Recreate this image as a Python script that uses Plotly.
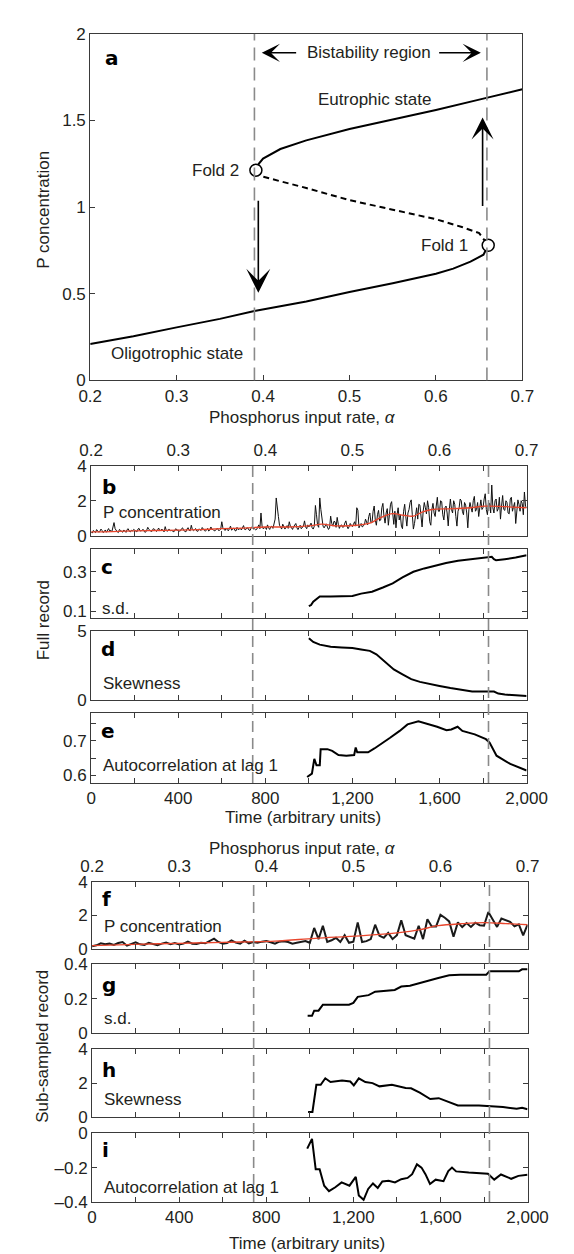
import plotly.graph_objects as go

W, H = 574, 1254
FONT = "Liberation Sans, Arial, Helvetica, sans-serif"
BFONT = "DejaVu Sans, Liberation Sans, Arial, sans-serif"
INK = "#231f20"
AX = "#3a3a3a"
RED = "#e8452c"
GREY = "#8a8a8a"

# ---------------- Panel a: bifurcation diagram ----------------
alpha_lower = [0.20, 0.25, 0.30, 0.35, 0.39, 0.45, 0.50, 0.55, 0.60, 0.62, 0.64, 0.655, 0.6605]
p_lower = [0.21, 0.255, 0.306, 0.355, 0.40, 0.455, 0.51, 0.56, 0.615, 0.645, 0.685, 0.725, 0.78]
alpha_upper = [0.3917, 0.395, 0.40, 0.42, 0.45, 0.50, 0.55, 0.60, 0.65, 0.70]
p_upper = [1.213, 1.25, 1.28, 1.335, 1.385, 1.45, 1.505, 1.56, 1.62, 1.68]
alpha_unstable = [0.3917, 0.40, 0.45, 0.50, 0.55, 0.60, 0.63, 0.65, 0.6605]
p_unstable = [1.213, 1.175, 1.11, 1.04, 0.985, 0.93, 0.885, 0.85, 0.78]
fold_alpha = [0.3917, 0.6605]
fold_p = [1.213, 0.78]
bistab_alpha = [0.390, 0.659]

alpha_ticks = [0.2, 0.3, 0.4, 0.5, 0.6, 0.7]
alpha_ticklabels = ["0.2", "0.3", "0.4", "0.5", "0.6", "0.7"]
pa_ticks = [0, 0.5, 1, 1.5, 2]
pa_ticklabels = ["0", "0.5", "1", "1.5", "2"]

# ---------------- Full record (b-e) ----------------
t_full_step = 5
b_full = [
    # 0-195
    0.22, 0.15, 0.30, 0.25, 0.18, 0.35, 0.28, 0.20, 0.25, 0.38, 0.30, 0.18, 0.24, 0.33, 0.20, 0.29, 0.41, 0.26, 0.31, 0.22,
    0.45, 0.75, 0.40, 0.28, 0.22, 0.18, 0.36, 0.30, 0.24, 0.20, 0.33, 0.27, 0.19, 0.35, 0.40, 0.26, 0.22, 0.31, 0.27, 0.36,
    # 200-395
    0.30, 0.24, 0.22, 0.38, 0.42, 0.27, 0.28, 0.34, 0.35, 0.22, 0.20, 0.31, 0.48, 0.36, 0.30, 0.25, 0.26, 0.40, 0.38, 0.28,
    0.24, 0.33, 0.44, 0.29, 0.31, 0.38, 0.27, 0.22, 0.52, 0.30, 0.25, 0.36, 0.36, 0.28, 0.30, 0.24, 0.22, 0.35, 0.40, 0.31,
    # 400-595
    0.33, 0.26, 0.28, 0.40, 0.45, 0.30, 0.26, 0.22, 0.38, 0.46, 0.31, 0.28, 0.60, 0.35, 0.29, 0.33, 0.41, 0.27, 0.25, 0.39,
    0.36, 0.30, 0.47, 0.34, 0.30, 0.26, 0.34, 0.42, 0.27, 0.32, 0.50, 0.36, 0.35, 0.28, 0.29, 0.40, 0.44, 0.30, 0.31, 0.37,
    # 600-795
    0.80, 0.45, 0.33, 0.30, 0.42, 0.36, 0.28, 0.40, 0.55, 0.32, 0.36, 0.44, 0.30, 0.27, 0.48, 0.35, 0.38, 0.42, 0.33, 0.50,
    0.58, 0.36, 0.35, 0.45, 0.44, 0.32, 0.30, 0.46, 0.52, 0.38, 0.40, 0.34, 0.36, 0.48, 0.62, 0.40, 1.30, 0.55, 0.40, 0.45,
    # 800-995
    0.48, 0.36, 0.62, 0.45, 0.36, 0.50, 0.55, 0.42, 0.72, 0.95, 2.16, 1.40, 1.10, 0.60, 0.45, 0.38, 0.66, 0.50, 0.38, 0.48,
    0.58, 0.42, 0.80, 0.55, 0.42, 0.36, 0.52, 0.65, 0.70, 0.45, 0.35, 0.48, 0.60, 0.40, 0.48, 0.55, 0.85, 0.50, 0.40, 0.62,
    # 1000-1195
    0.50, 0.62, 0.72, 0.45, 0.38, 0.55, 1.73, 1.20, 0.60, 0.48, 2.16, 1.50, 0.90, 0.55, 0.45, 0.62, 0.68, 0.50, 0.36, 0.45,
    1.12, 0.70, 0.55, 0.82, 0.80, 0.48, 1.05, 0.66, 0.42, 0.58, 0.62, 0.48, 0.50, 0.72, 0.85, 0.55, 0.40, 0.52, 0.70, 0.60,
    # 1200-1395
    0.52, 0.66, 0.80, 0.55, 1.60, 1.46, 0.45, 0.58, 0.70, 0.50, 0.58, 0.62, 0.95, 0.70, 0.62, 1.10, 1.30, 0.75, 0.75, 1.40,
    1.70, 0.90, 0.60, 1.20, 1.45, 0.85, 0.90, 1.60, 1.85, 1.10, 0.72, 1.30, 1.55, 0.60, 1.20, 1.80, 1.95, 1.00, 0.65, 1.40,
    # 1400-1595
    0.45, 1.20, 1.60, 0.90, 1.20, 0.55, 0.40, 1.40, 1.80, 1.10, 0.55, 1.30, 1.50, 1.90, 2.05, 1.20, 0.38, 0.70, 1.35, 1.60,
    0.95, 1.80, 1.75, 1.00, 0.50, 1.40, 1.90, 1.60, 1.25, 2.00, 1.60, 0.80, 0.60, 1.50, 1.85, 1.30, 1.10, 1.70, 2.20, 1.40,
    # 1600-1795
    1.40, 2.00, 1.95, 1.20, 0.90, 1.60, 1.70, 1.30, 0.56, 1.50, 2.10, 1.50, 1.30, 2.00, 1.80, 1.10, 0.55, 1.40, 1.60, 2.10,
    2.00, 1.40, 1.20, 1.90, 1.75, 1.30, 0.45, 1.50, 1.90, 1.60, 1.35, 2.00, 2.25, 1.40, 1.50, 1.90, 1.10, 1.60, 2.05, 1.50,
    # 1800-1995
    1.60, 2.10, 2.40, 1.50, 1.20, 1.90, 1.85, 1.30, 2.90, 1.60, 1.30, 2.00, 2.10, 1.40, 1.55, 2.20, 0.95, 1.70, 2.30, 1.50,
    1.45, 2.00, 1.90, 1.30, 1.25, 2.10, 2.20, 1.40, 1.60, 1.90, 0.70, 1.50, 2.05, 1.80, 1.40, 2.00, 1.85, 1.20, 2.50, 1.70,
    # 2000
    1.60,
]
t_full = [i * t_full_step for i in range(len(b_full))]

b_smooth_t = [0, 100, 200, 300, 400, 500, 600, 700, 800, 900, 1000, 1060, 1130, 1220, 1280, 1330,
              1385, 1435, 1480, 1520, 1565, 1650, 1740, 1810, 1900, 2000]
b_smooth = [0.22, 0.24, 0.28, 0.30, 0.32, 0.35, 0.40, 0.44, 0.50, 0.50, 0.56, 0.66, 0.56, 0.60, 0.72, 1.04,
            1.26, 1.17, 1.12, 1.35, 1.50, 1.54, 1.60, 1.69, 1.66, 1.60]

c_t = [1000, 1010, 1020, 1035, 1050, 1100, 1150, 1200, 1240, 1290, 1340, 1385, 1430, 1480, 1530, 1575,
       1630, 1685, 1740, 1795, 1840, 1850, 1860, 1900, 1950, 2000]
c_sd = [0.125, 0.131, 0.148, 0.160, 0.175, 0.175, 0.177, 0.177, 0.189, 0.199, 0.220, 0.241, 0.271, 0.300,
        0.317, 0.330, 0.344, 0.356, 0.364, 0.372, 0.376, 0.364, 0.358, 0.364, 0.372, 0.384]

d_t = [1000, 1020, 1050, 1100, 1150, 1200, 1240, 1280, 1310, 1340, 1370, 1390, 1430, 1470, 1510, 1550,
       1600, 1650, 1700, 1750, 1800, 1850, 1870, 1900, 1950, 2000]
d_skew = [4.47, 4.20, 4.00, 3.85, 3.80, 3.75, 3.65, 3.55, 3.30, 2.90, 2.45, 2.20, 1.85, 1.50, 1.30, 1.15,
          1.00, 0.85, 0.70, 0.60, 0.60, 0.60, 0.45, 0.38, 0.33, 0.28]

e_t = [992, 1014, 1025, 1035, 1050, 1054, 1085, 1107, 1136, 1172, 1208, 1215, 1222, 1272, 1301, 1344,
       1373, 1417, 1453, 1503, 1546, 1589, 1632, 1654, 1683, 1705, 1762, 1813, 1830, 1862, 1925, 1957, 2000]
e_ac = [0.595, 0.605, 0.648, 0.629, 0.629, 0.676, 0.676, 0.671, 0.659, 0.657, 0.659, 0.681, 0.667, 0.667,
        0.678, 0.695, 0.709, 0.729, 0.748, 0.757, 0.750, 0.741, 0.731, 0.733, 0.741, 0.729, 0.719, 0.705,
        0.695, 0.657, 0.633, 0.624, 0.614]

# ---------------- Sub-sampled record (f-i) ----------------
t_sub_step = 20
f_sub = [
    0.15, 0.20, 0.32, 0.26, 0.30, 0.22, 0.34, 0.40, 0.18, 0.30,
    0.38, 0.26, 0.22, 0.35, 0.28, 0.20, 0.30, 0.36, 0.27, 0.33,
    0.25, 0.30, 0.42, 0.30, 0.28, 0.35, 0.32, 0.45, 0.60, 0.40,
    0.30, 0.34, 0.50, 0.36, 0.30, 0.48, 0.32, 0.40, 0.35, 0.42,
    0.45, 0.38, 0.30, 0.42, 0.44, 0.40, 0.30, 0.35, 0.40, 0.45,
    0.35, 1.24, 0.57, 1.37, 0.40, 0.50, 0.65, 0.40, 0.80, 0.35,
    0.42, 1.57, 0.40, 0.45, 0.57, 1.43, 0.77, 0.65, 0.94, 0.57,
    0.80, 1.69, 0.80, 0.70, 0.60, 1.37, 0.57, 1.76, 1.33, 1.33,
    2.02, 1.85, 1.63, 0.71, 1.57, 1.29, 1.53, 1.30, 1.55, 1.40,
    1.37, 2.19, 1.71, 1.30, 1.80, 1.71, 1.60, 1.33, 1.45, 0.80,
    1.43,
]
t_sub = [i * t_sub_step for i in range(len(f_sub))]

f_smooth_t = [0, 200, 400, 600, 840, 1025, 1230, 1410, 1500, 1590, 1700, 1800, 1900, 2000]
f_smooth = [0.18, 0.26, 0.32, 0.38, 0.45, 0.62, 0.77, 0.96, 1.12, 1.37, 1.49, 1.55, 1.50, 1.43]

g_t = [990, 1010, 1020, 1040, 1060, 1180, 1200, 1220, 1270, 1300, 1390, 1420, 1460, 1500, 1540, 1590,
       1640, 1690, 1810, 1825, 1960, 1975, 2000]
g_sd = [0.100, 0.100, 0.130, 0.130, 0.165, 0.165, 0.175, 0.210, 0.220, 0.240, 0.250, 0.270, 0.275, 0.290,
        0.305, 0.320, 0.335, 0.338, 0.338, 0.358, 0.358, 0.370, 0.370]

h_t = [992, 1012, 1030, 1050, 1071, 1095, 1148, 1186, 1202, 1225, 1255, 1288, 1320, 1377, 1440, 1465,
       1505, 1553, 1592, 1632, 1680, 1777, 1823, 1887, 1950, 1975, 2000]
h_skew = [0.32, 0.32, 1.90, 1.90, 2.28, 2.06, 2.15, 2.09, 1.87, 2.28, 2.06, 2.00, 1.81, 1.90, 1.72, 1.70,
          1.44, 1.07, 1.12, 0.93, 0.69, 0.69, 0.65, 0.60, 0.50, 0.56, 0.47]

i_t = [988, 1010, 1027, 1045, 1066, 1088, 1117, 1146, 1182, 1211, 1225, 1247, 1268, 1290, 1312, 1333,
       1362, 1391, 1420, 1449, 1470, 1492, 1513, 1531, 1552, 1578, 1614, 1636, 1653, 1672, 1730, 1802,
       1818, 1847, 1878, 1925, 1958, 2000]
i_ac = [-0.090, -0.033, -0.210, -0.210, -0.305, -0.337, -0.314, -0.286, -0.305, -0.254, -0.362, -0.387,
        -0.324, -0.292, -0.318, -0.280, -0.276, -0.286, -0.267, -0.260, -0.238, -0.181, -0.200, -0.238,
        -0.295, -0.270, -0.279, -0.220, -0.200, -0.222, -0.229, -0.234, -0.236, -0.270, -0.240, -0.265,
        -0.248, -0.242]

transition_times = [742, 1825]

time_tickvals = [0, 200, 400, 600, 800, 1000, 1200, 1400, 1600, 1800, 2000]
time_ticklabels = ["0", "", "400", "", "800", "", "1,200", "", "1,600", "", "2,000"]
alpha_top_labels = ["0.2", "", "0.3", "", "0.4", "", "0.5", "", "0.6", "", "0.7"]

# ---------------- geometry helpers ----------------
def fx(px):
    return px / W


def fy(py):
    return 1 - py / H


TICKFONT = dict(family=FONT, size=17, color=INK)

fig = go.Figure()

# Panel a traces
fig.add_trace(go.Scatter(x=alpha_lower, y=p_lower, mode="lines", line=dict(color="black", width=2),
                         xaxis="x", yaxis="y", hoverinfo="skip"))
fig.add_trace(go.Scatter(x=alpha_upper, y=p_upper, mode="lines", line=dict(color="black", width=2),
                         xaxis="x", yaxis="y", hoverinfo="skip"))
fig.add_trace(go.Scatter(x=alpha_unstable, y=p_unstable, mode="lines",
                         line=dict(color="black", width=2, dash="6px,4px"),
                         xaxis="x", yaxis="y", hoverinfo="skip"))
fig.add_trace(go.Scatter(x=fold_alpha, y=fold_p, mode="markers",
                         marker=dict(symbol="circle", size=12, color="white",
                                     line=dict(color="black", width=1.5)),
                         xaxis="x", yaxis="y", hoverinfo="skip"))

# Full record traces
fig.add_trace(go.Scatter(x=t_full, y=b_full, mode="lines", line=dict(color="#111111", width=1),
                         xaxis="x2", yaxis="y2"))
fig.add_trace(go.Scatter(x=b_smooth_t, y=b_smooth, mode="lines", line=dict(color=RED, width=1.3, shape="spline"),
                         xaxis="x2", yaxis="y2"))
fig.add_trace(go.Scatter(x=c_t, y=c_sd, mode="lines", line=dict(color="black", width=2), xaxis="x3", yaxis="y3"))
fig.add_trace(go.Scatter(x=d_t, y=d_skew, mode="lines", line=dict(color="black", width=2), xaxis="x4", yaxis="y4"))
fig.add_trace(go.Scatter(x=e_t, y=e_ac, mode="lines", line=dict(color="black", width=2), xaxis="x5", yaxis="y5"))

# Sub-sampled traces
fig.add_trace(go.Scatter(x=t_sub, y=f_sub, mode="lines", line=dict(color="#1a1a1a", width=2),
                         xaxis="x6", yaxis="y6"))
fig.add_trace(go.Scatter(x=f_smooth_t, y=f_smooth, mode="lines", line=dict(color=RED, width=1.3, shape="spline"),
                         xaxis="x6", yaxis="y6"))
fig.add_trace(go.Scatter(x=g_t, y=g_sd, mode="lines", line=dict(color="black", width=2), xaxis="x7", yaxis="y7"))
fig.add_trace(go.Scatter(x=h_t, y=h_skew, mode="lines", line=dict(color="black", width=2), xaxis="x8", yaxis="y8"))
fig.add_trace(go.Scatter(x=i_t, y=i_ac, mode="lines", line=dict(color="black", width=2), xaxis="x9", yaxis="y9"))

# ---------------- axes ----------------
def base_axis(**kw):
    d = dict(showline=True, linecolor=AX, linewidth=1, mirror="ticks", ticks="inside", ticklen=5,
             tickcolor=AX, tickwidth=1, showgrid=False, zeroline=False, tickfont=TICKFONT,
             fixedrange=True)
    d.update(kw)
    return d


layout = dict(
    width=W, height=H, margin=dict(l=0, r=0, t=0, b=0), showlegend=False,
    paper_bgcolor="white", plot_bgcolor="white",
)

layout["xaxis"] = base_axis(domain=[fx(74.5), fx(533)], range=[0.2, 0.7], tickvals=alpha_ticks,
                            ticktext=alpha_ticklabels, anchor="y", mirror=True)
layout["yaxis"] = base_axis(domain=[fy(369), fy(17)], range=[0, 2], tickvals=pa_ticks,
                            ticktext=pa_ticklabels, anchor="x", mirror=True)

upper_x = [fx(75.5), fx(537.5)]
lower_x = [fx(76.5), fx(538.5)]

panels = [
    # name, xdomain, top px, bottom px, yrange, ytickvals, yticktext, x labels
    ("2", upper_x, 455.7, 526.7, [0, 4], [0, 2, 4], ["0", "2", "4"], "top"),
    ("3", upper_x, 540.0, 610.0, [0.0665, 0.4165], [0.1, 0.2, 0.3], ["0.1", "", "0.3"], None),
    ("4", upper_x, 623.3, 693.3, [0, 5], [0, 5], ["0", "5"], None),
    ("5", upper_x, 706.7, 777.7, [0.578, 0.781], [0.6, 0.65, 0.7, 0.75], ["0.6", "", "0.7", ""], "bottom"),
    ("6", lower_x, 878.0, 946.0, [0, 4], [0, 2, 4], ["0", "2", "4"], "top"),
    ("7", lower_x, 961.7, 1031.7, [0, 0.4], [0, 0.2, 0.4], ["0", "0.2", "0.4"], None),
    ("8", lower_x, 1047.7, 1117.3, [0, 4], [0, 2, 4], ["0", "2", "4"], None),
    ("9", lower_x, 1133.3, 1203.3, [-0.4, 0], [-0.4, -0.2, 0], ["\u20130.4", "\u20130.2", "0"], "bottom"),
]

for n, xd, top, bot, yr, ytv, ytt, xl in panels:
    xa = base_axis(domain=xd, range=[0, 2000], tickvals=time_tickvals, anchor="y" + n)
    if xl == "top":
        xa.update(side="top", ticktext=alpha_top_labels, showticklabels=True, ticklabelstandoff=2)
    elif xl == "bottom":
        xa.update(ticktext=time_ticklabels, showticklabels=True)
    else:
        xa.update(showticklabels=False)
    layout["xaxis" + n] = xa
    layout["yaxis" + n] = base_axis(domain=[fy(bot), fy(top)], range=yr, tickvals=ytv, ticktext=ytt,
                                    anchor="x" + n)

# ---------------- dashed transition lines ----------------
shapes = []
for a in bistab_alpha:
    shapes.append(dict(type="line", xref="x", yref="y", x0=a, x1=a, y0=0, y1=2,
                       line=dict(color=GREY, width=1.6, dash="13px,7px")))
for t in transition_times:
    shapes.append(dict(type="line", xref="x2", yref="paper", x0=t, x1=t, y0=fy(777.7), y1=fy(455.7),
                       line=dict(color=GREY, width=1.6, dash="11px,6px")))
    shapes.append(dict(type="line", xref="x6", yref="paper", x0=t, x1=t, y0=fy(1203.3), y1=fy(878.0),
                       line=dict(color=GREY, width=1.6, dash="11px,6px")))
layout["shapes"] = shapes

# ---------------- annotations ----------------
TXT = dict(family=FONT, size=17, color=INK)
BOLD = dict(family=BFONT, size=20, color="black")
ann = []


def ptext(text, xpx, ypx, font=TXT, xanchor="left", angle=0):
    ann.append(dict(text=text, x=fx(xpx), y=fy(ypx), xref="paper", yref="paper", showarrow=False,
                    xanchor=xanchor, yanchor="middle", font=font, textangle=angle))


def atext(text, x, y, xanchor="center"):
    ann.append(dict(text=text, x=x, y=y, xref="x", yref="y", showarrow=False, xanchor=xanchor,
                    yanchor="middle", font=TXT))


def arrow(x, y, ax, ay, size):
    ann.append(dict(text="", x=x, y=y, ax=ax, ay=ay, xref="x", yref="y", axref="x", ayref="y",
                    showarrow=True, arrowhead=3, arrowsize=size, arrowwidth=1.6, arrowcolor="black",
                    standoff=0, startstandoff=0))


# panel a texts
ptext("<b>a</b>", 88.0, 41.7, BOLD)
atext("Bistability region", 0.5223, 1.89)
atext("Eutrophic state", 0.529, 1.62)
atext("Fold 2", 0.3745, 1.213, xanchor="right")
atext("Fold 1", 0.640, 0.78, xanchor="right")
atext("Oligotrophic state", 0.3006, 0.155)
arrow(0.3985, 1.89, 0.440, 1.89, 1.9)
arrow(0.652, 1.89, 0.602, 1.89, 1.9)
arrow(0.3945, 0.505, 0.3945, 1.045, 2.5)
arrow(0.654, 1.517, 0.654, 0.997, 2.3)

# panel letters and labels
ptext("<b>b</b>", 85.0, 477, BOLD)
ptext("P concentration", 86.0, 503)
ptext("<b>c</b>", 84.0, 558, BOLD)
ptext("s.d.", 85.0, 601)
ptext("<b>d</b>", 84.0, 642, BOLD)
ptext("Skewness", 86.0, 676.7)
ptext("<b>e</b>", 84.0, 725, BOLD)
ptext("Autocorrelation at lag 1", 86.0, 760)
ptext("<b>f</b>", 85.0, 896, BOLD)
ptext("P concentration", 86.5, 923.3)
ptext("<b>g</b>", 85.0, 983.3, BOLD)
ptext("s.d.", 86.5, 1016.7)
ptext("<b>h</b>", 85.0, 1069, BOLD)
ptext("Skewness", 86.5, 1099.3)
ptext("<b>i</b>", 85.0, 1150, BOLD)
ptext("Autocorrelation at lag 1", 86.5, 1189)

# axis titles
ptext("Phosphorus input rate, <i>α</i>", 300, 407, xanchor="center")
ptext("Time (arbitrary units)", 300, 813, xanchor="center")
ptext("Phosphorus input rate, <i>α</i>", 300, 844, xanchor="center")
ptext("Time (arbitrary units)", 304, 1245, xanchor="center")
ptext("P concentration", 24, 196, xanchor="center", angle=-90)
ptext("Full record", 25, 613, xanchor="center", angle=-90)
ptext("Sub-sampled record", 24, 1045, xanchor="center", angle=-90)

layout["annotations"] = ann
fig.update_layout(**layout)

fig.write_html("out.html")
